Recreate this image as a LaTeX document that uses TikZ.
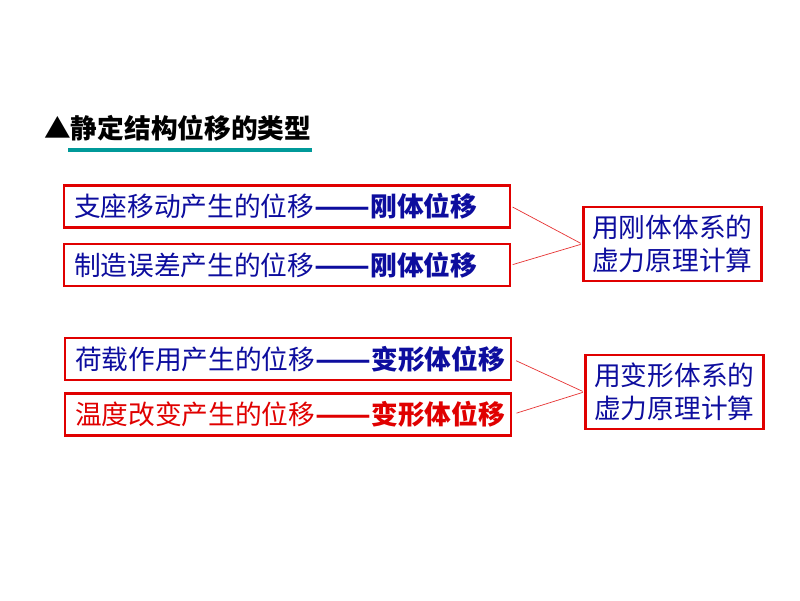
\documentclass[tikz,border=0pt]{standalone}
\usepackage{fontspec}
\usepackage{xcolor}
\usepackage{graphicx}
\usepackage{tikz}
\setmainfont{Noto Sans CJK SC}
\newfontfamily\cjk{Noto Sans CJK SC}
\definecolor{slideblue}{rgb}{0.05, 0.05, 0.62}
\definecolor{slidered}{rgb}{0.88, 0.0, 0.0}
\definecolor{slideteal}{rgb}{0.0, 0.6, 0.6}
\newcommand{\longdash}{\scalebox{1.22}[1]{\textbf{——}}}
\tikzset{
	typebox/.style = {draw = slidered, line width = 2pt, rectangle, inner xsep = 0.25cm, inner ysep = 0pt, minimum height = 1.05cm, text width = 10.65cm, align = left, font = \cjk\fontsize{19}{23}\selectfont},
	methodbox/.style = {draw = slidered, line width = 2pt, rectangle, inner xsep = 0.2cm, minimum height = 1.85cm, text width = 4.05cm, align = center, font = \cjk\fontsize{19}{23.5}\selectfont, text = slideblue},
	link/.style = {draw = slidered!80, line width = 0.5pt}
}

\begin{document}
\begin{tikzpicture}
	\fill[white] (0,0) rectangle (20,15);
	\useasboundingbox (0,0) rectangle (20,15);
	
	\node[anchor = west, xshift = 1.1cm, yshift = 11.8cm, font = \cjk\bfseries\fontsize{19}{23}\selectfont, inner sep = 0pt] (title) {▲静定结构位移的类型};
	\coordinate[xshift = 1.7cm, yshift = 11.25cm] (ul1);
	\coordinate[xshift = 7.8cm, yshift = 11.25cm] (ul2);
	\draw[slideteal, line width = 2.2pt] (ul1) -- (ul2);
	
	\node[typebox, text = slideblue, xshift = 7.175cm, yshift = 9.84cm] (b1) {支座移动产生的位移\longdash\textbf{刚体位移}};
	\node[typebox, text = slideblue, xshift = 7.175cm, yshift = 8.375cm] (b2) {制造误差产生的位移\longdash\textbf{刚体位移}};
	\node[typebox, text = slideblue, xshift = 7.2cm, yshift = 6.025cm] (b3) {荷载作用产生的位移\longdash\textbf{变形体位移}};
	\node[typebox, text = slidered, xshift = 7.2cm, yshift = 4.64cm] (b4) {温度改变产生的位移\longdash\textbf{变形体位移}};
	
	\node[methodbox, xshift = 16.81cm, yshift = 8.9cm] (rigid) {用刚体体系的\\虚力原理计算};
	\node[methodbox, xshift = 16.86cm, yshift = 5.2cm] (deform) {用变形体系的\\虚力原理计算};
	
	\draw[link, shorten <= 1pt, shorten >= 1pt] (b1.east) -- (rigid.west);
	\draw[link, shorten <= 1pt, shorten >= 1pt] (b2.east) -- (rigid.west);
	
	\draw[link, shorten <= 3pt, shorten >= 1pt] (b3.east) -- (deform.west);
	\draw[link, shorten <= 3pt, shorten >= 1pt] (b4.east) -- (deform.west);
	
\end{tikzpicture}
\end{document}
